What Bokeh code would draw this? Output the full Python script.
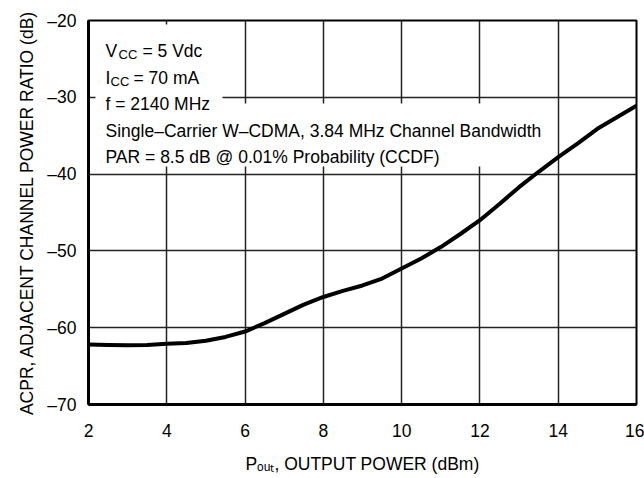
from bokeh.plotting import figure
from bokeh.models import Range1d, FixedTicker, Label, BoxAnnotation
from bokeh.embed import file_html
from bokeh.resources import INLINE

# ---- data ----
pout_dbm = [2, 2.5, 3, 3.5, 4, 4.5, 5, 5.5, 6, 6.5, 7, 7.5, 8, 8.5, 9, 9.5,
            10, 10.5, 11, 11.5, 12, 12.5, 13, 13.5, 14, 14.5, 15, 15.5, 16]
acpr_db = [-62.2, -62.25, -62.3, -62.25, -62.1, -62.0, -61.7, -61.2, -60.5,
           -59.4, -58.2, -57.0, -56.0, -55.2, -54.5, -53.6, -52.3, -51.0,
           -49.5, -47.8, -46.0, -43.9, -41.7, -39.7, -37.8, -36.0, -34.1,
           -32.6, -31.1]
x_ticks = [2, 4, 6, 8, 10, 12, 14, 16]
y_ticks = [-70, -60, -50, -40, -30, -20]
y_tick_labels = {-70: "–70", -60: "–60", -50: "–50", -40: "–40", -30: "–30", -20: "–20"}

FONT = "Liberation Sans"

W, H = 644, 478
ML, MR, MT, MB = 88, 8, 20, 74
p = figure(width=W, height=H, output_backend="svg", toolbar_location=None,
           x_range=Range1d(2, 16), y_range=Range1d(-70, -20),
           min_border_left=ML, min_border_right=MR, min_border_top=MT,
           min_border_bottom=MB)
p.background_fill_color = "white"
p.border_fill_color = "white"
p.outline_line_color = "black"
p.outline_line_width = 2

FW = W - ML - MR
FH = H - MT - MB


def xd(px):
    # offset in px from frame left -> data x
    return 2 + px * 14.0 / FW


def yd(py):
    # offset in px from frame top -> data y
    return -20 - py * 50.0 / FH


p.xaxis.ticker = FixedTicker(ticks=x_ticks)
p.yaxis.ticker = FixedTicker(ticks=y_ticks)
p.yaxis.major_label_overrides = y_tick_labels
for ax in (p.xaxis, p.yaxis):
    ax.major_tick_line_color = None
    ax.minor_tick_line_color = None
    ax.major_tick_out = 0
    ax.major_tick_in = 0
    ax.axis_line_color = "black"
    ax.axis_line_width = 3
    ax.major_label_text_font = FONT
    ax.major_label_text_font_size = "17.5px"
    ax.major_label_text_color = "black"
    ax.axis_label_text_font = FONT
    ax.axis_label_text_font_size = "17.5px"
    ax.axis_label_text_font_style = "normal"
    ax.axis_label_text_color = "black"
p.xaxis.major_label_standoff = 19
p.yaxis.major_label_standoff = 12
p.yaxis.axis_label = "ACPR, ADJACENT CHANNEL POWER RATIO (dB)"
p.yaxis.axis_label_standoff = 7
p.xaxis.axis_label = "Pₒᵤₜ, OUTPUT POWER (dBm)"
p.xaxis.axis_label_standoff = 14

p.grid.grid_line_color = "#222222"
p.grid.grid_line_width = 1.5
p.xgrid.ticker = FixedTicker(ticks=x_ticks)
p.ygrid.ticker = FixedTicker(ticks=y_ticks)

# white backgrounds behind the annotation text (drawn over the grid only)
for (l, r, t, b) in [(7, 124, 4, 68), (7, 134, 66, 88), (7, 458, 83, 146)]:
    p.add_layout(BoxAnnotation(left=xd(l), right=xd(r), top=yd(t), bottom=yd(b),
                               fill_color="white", fill_alpha=1.0,
                               line_color=None, level="underlay"))

p.line(pout_dbm, acpr_db, line_color="black", line_width=4)


def lab(text, xo, yo, size="17.5px"):
    p.add_layout(Label(x=2, y=-20, x_offset=xo, y_offset=yo, text=text,
                       text_font=FONT, text_font_size=size,
                       text_color="black", text_baseline="alphabetic",
                       text_align="left"))


lab("V", 17, -30)
lab("CC", 30, -34, "13px")
lab("= 5 Vdc", 54, -30)
lab("I", 17, -57)
lab("CC", 22, -61, "13px")
lab("= 70 mA", 45, -57)
lab("f = 2140 MHz", 17, -83)
lab("Single–Carrier W–CDMA, 3.84 MHz Channel Bandwidth", 17, -110)
lab("PAR = 8.5 dB @ 0.01% Probability (CCDF)", 17, -136)

open("out.html", "w").write(file_html(p, INLINE))
